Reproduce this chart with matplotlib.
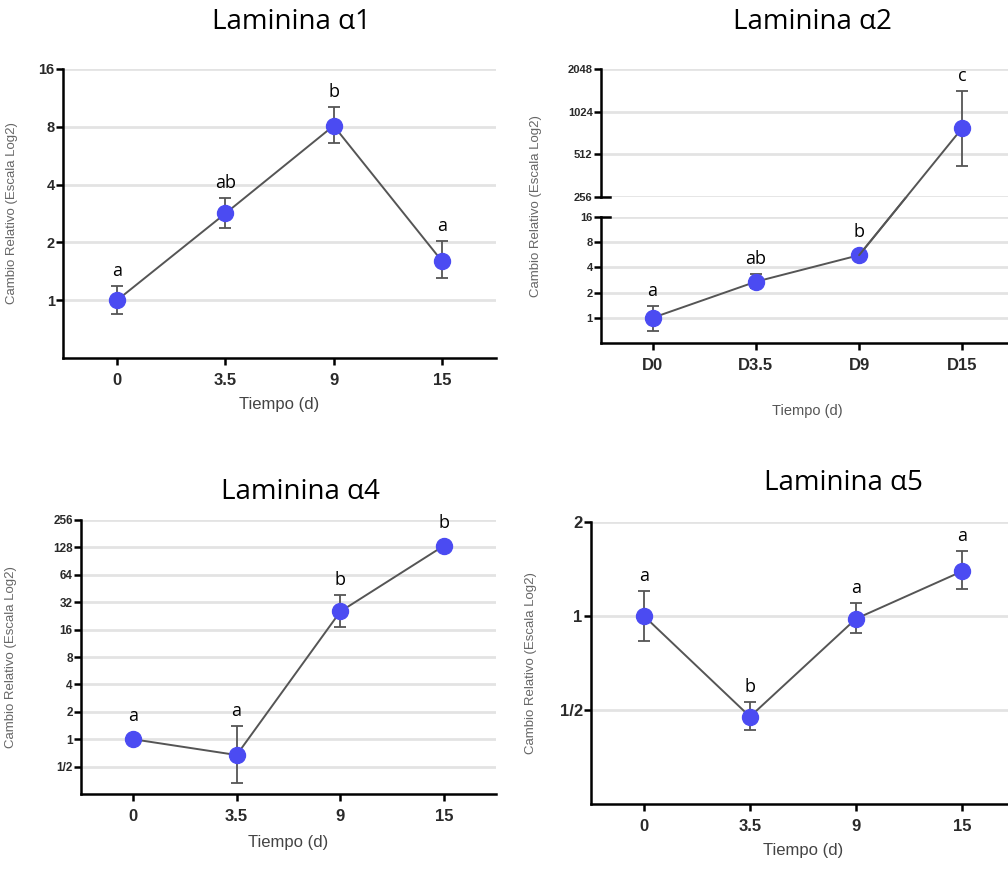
import numpy as np
import matplotlib
matplotlib.use('Agg')
import matplotlib.pyplot as plt
from matplotlib.patches import ConnectionPatch

plt.rcParams['font.family'] = ['Liberation Sans', 'DejaVu Sans']

# datos (media, limite superior e inferior de la barra de error)
dias = ['0', '3.5', '9', '15']
dias_d = ['D0', 'D3.5', 'D9', 'D15']

a1_media = [1.0, 2.83, 8.1, 1.6]
a1_sup = [1.18, 3.4, 10.1, 2.03]
a1_inf = [0.85, 2.37, 6.6, 1.3]
a1_letras = ['a', 'ab', 'b', 'a']

a2_media = [1.0, 2.7, 5.6, 787]
a2_sup = [1.4, 3.3, 5.9, 1430]
a2_inf = [0.7, 2.3, 5.3, 427]
a2_letras = ['a', 'ab', 'b', 'c']

a4_media = [1.0, 0.67, 25.3, 134]
a4_sup = [1.04, 1.4, 38, 140]
a4_inf = [0.96, 0.33, 17.3, 128]
a4_letras = ['a', 'a', 'b', 'b']

a5_media = [1.0, 0.476, 0.98, 1.39]
a5_sup = [1.2, 0.53, 1.10, 1.61]
a5_inf = [0.83, 0.43, 0.88, 1.22]
a5_letras = ['a', 'b', 'a', 'a']

ticks_a1 = [1, 2, 4, 8, 16]
ticks_a2_lo = [1, 2, 4, 8, 16]
ticks_a2_hi = [256, 512, 1024, 2048]
ticks_a4 = [0.5, 1, 2, 4, 8, 16, 32, 64, 128, 256]
ticks_a5 = [0.5, 1, 2]

AZUL = '#4b4bf2'
GRIS = '#555555'
W, H = 1008, 875


def caja(left, top, right, bottom):
    return [left / W, 1 - bottom / H, (right - left) / W, (bottom - top) / H]


def etiqueta(v):
    return '1/2' if v == 0.5 else str(int(v))


def estilo(ax, ticks, ylim, ysize):
    ax.set_yscale('log', base=2)
    ax.set_ylim(*ylim)
    ax.set_yticks(ticks)
    ax.set_yticklabels([etiqueta(t) for t in ticks])
    ax.yaxis.set_minor_locator(matplotlib.ticker.NullLocator())
    ax.set_xlim(-0.5, 3.5)
    for s in ['top', 'right']:
        ax.spines[s].set_visible(False)
    for s in ['left', 'bottom']:
        ax.spines[s].set_linewidth(1.8)
    ax.tick_params(axis='both', direction='out', length=5, width=1.8, color='black')
    ax.tick_params(axis='y', labelsize=ysize, pad=1)
    for lab in ax.get_yticklabels():
        lab.set_fontweight('bold')
        lab.set_color('#2a2a2a')
    ax.yaxis.grid(True, color='#e3e3e3', lw=2)
    ax.set_axisbelow(True)


def serie(ax, idx, media, sup, inf):
    x = np.array(idx)
    m = np.array([media[i] for i in idx])
    s = np.array([sup[i] for i in idx])
    n = np.array([inf[i] for i in idx])
    ax.errorbar(x, m, yerr=[m - n, s - m], fmt='none', ecolor=GRIS,
                elinewidth=1.3, capsize=4.5, capthick=1.3, zorder=3)
    ax.plot(x, m, '-', color=GRIS, lw=1.4, zorder=2)
    ax.plot(x, m, 'o', ms=11.5, color=AZUL, mec=AZUL, zorder=4, clip_on=False)


def letras(ax, idx, media, sup, textos):
    for i in idx:
        py_m = ax.transData.transform((i, media[i]))[1]
        py_s = ax.transData.transform((i, sup[i]))[1]
        dy = max(py_s - py_m, 8) + 10
        ax.annotate(textos[i], xy=(i, media[i]), xytext=(0, dy),
                    textcoords='offset pixels', ha='center', va='baseline',
                    fontsize=13, family=['Open Sans', 'DejaVu Sans'], color='black')


def ejex(ax, labels, size=12):
    ax.set_xticks(range(len(labels)))
    ax.set_xticklabels(labels, fontsize=size, fontweight='bold', color='#2a2a2a')
    ax.tick_params(axis='x', pad=6)


fig = plt.figure(figsize=(W / 100, H / 100), dpi=100)

titulo = dict(ha='center', va='center', fontsize=20, family=['Open Sans', 'DejaVu Sans'], color='black')
ylab = 'Cambio Relativo (Escala Log2)'
ylab_kw = dict(fontsize=9.5, color='#666666')

# Laminina a1
ax1 = fig.add_axes(caja(63, 69, 496, 358))
estilo(ax1, ticks_a1, (0.5, 16), 10.5)
ejex(ax1, dias)
serie(ax1, range(4), a1_media, a1_sup, a1_inf)
letras(ax1, range(4), a1_media, a1_sup, a1_letras)
ax1.set_xlabel('Tiempo (d)', fontsize=12, color='#444444', labelpad=6)
ax1.set_ylabel(ylab, **ylab_kw)
ax1.yaxis.set_label_coords(-0.104, 0.5)
fig.text(291 / W, 1 - 22 / H, 'Laminina α1', **titulo)

# Laminina a2 (eje cortado)
ax2b = fig.add_axes(caja(601, 217, 1014, 343))
ax2t = fig.add_axes(caja(601, 69, 1014, 197))
estilo(ax2b, ticks_a2_lo, (0.5, 16), 8)
estilo(ax2t, ticks_a2_hi, (256, 2048), 8)
ejex(ax2b, dias_d)
ax2t.spines['bottom'].set_visible(False)
ax2t.set_xticks([])
serie(ax2b, [0, 1, 2], a2_media, a2_sup, a2_inf)
serie(ax2t, [3], a2_media, a2_sup, a2_inf)
letras(ax2b, [0, 1, 2], a2_media, a2_sup, a2_letras)
letras(ax2t, [3], a2_media, a2_sup, a2_letras)
for ax_c in [ax2b, ax2t]:
    con = ConnectionPatch(xyA=(2, a2_media[2]), coordsA=ax2b.transData,
                          xyB=(3, a2_media[3]), coordsB=ax2t.transData,
                          color=GRIS, lw=1.4, zorder=2)
    ax_c.add_artist(con)
ax2t.plot([0, 0.022], [0, 0], transform=ax2t.transAxes, color='black', lw=1.8, clip_on=False)
ax2b.plot([0, 0.022], [1, 1], transform=ax2b.transAxes, color='black', lw=1.8, clip_on=False)
ax2b.set_xlabel('Tiempo (d)', fontsize=10.5, color='#555555', labelpad=22)
fig.text(536 / W, 1 - 206 / H, ylab, rotation=90, ha='center', va='center', **ylab_kw)
fig.text(812 / W, 1 - 22 / H, 'Laminina α2', **titulo)

# Laminina a4
ax3 = fig.add_axes(caja(81, 520, 496, 794))
estilo(ax3, ticks_a4, (0.25, 256), 8.5)
ejex(ax3, dias)
serie(ax3, range(4), a4_media, a4_sup, a4_inf)
letras(ax3, range(4), a4_media, a4_sup, a4_letras)
ax3.set_xlabel('Tiempo (d)', fontsize=12, color='#444444', labelpad=8)
ax3.set_ylabel(ylab, **ylab_kw)
ax3.yaxis.set_label_coords(-0.154, 0.5)
fig.text(300 / W, 1 - 492 / H, 'Laminina α4', **titulo)

# Laminina a5
ax4 = fig.add_axes(caja(591, 522, 1015, 804))
estilo(ax4, ticks_a5, (0.25, 2), 12)
ejex(ax4, dias)
serie(ax4, range(4), a5_media, a5_sup, a5_inf)
letras(ax4, range(4), a5_media, a5_sup, a5_letras)
ax4.set_xlabel('Tiempo (d)', fontsize=12, color='#444444', labelpad=6)
ax4.set_ylabel(ylab, **ylab_kw)
ax4.yaxis.set_label_coords(-0.127, 0.5)
fig.text(843 / W, 1 - 483 / H, 'Laminina α5', **titulo)

fig.savefig('out.png', dpi=100)
